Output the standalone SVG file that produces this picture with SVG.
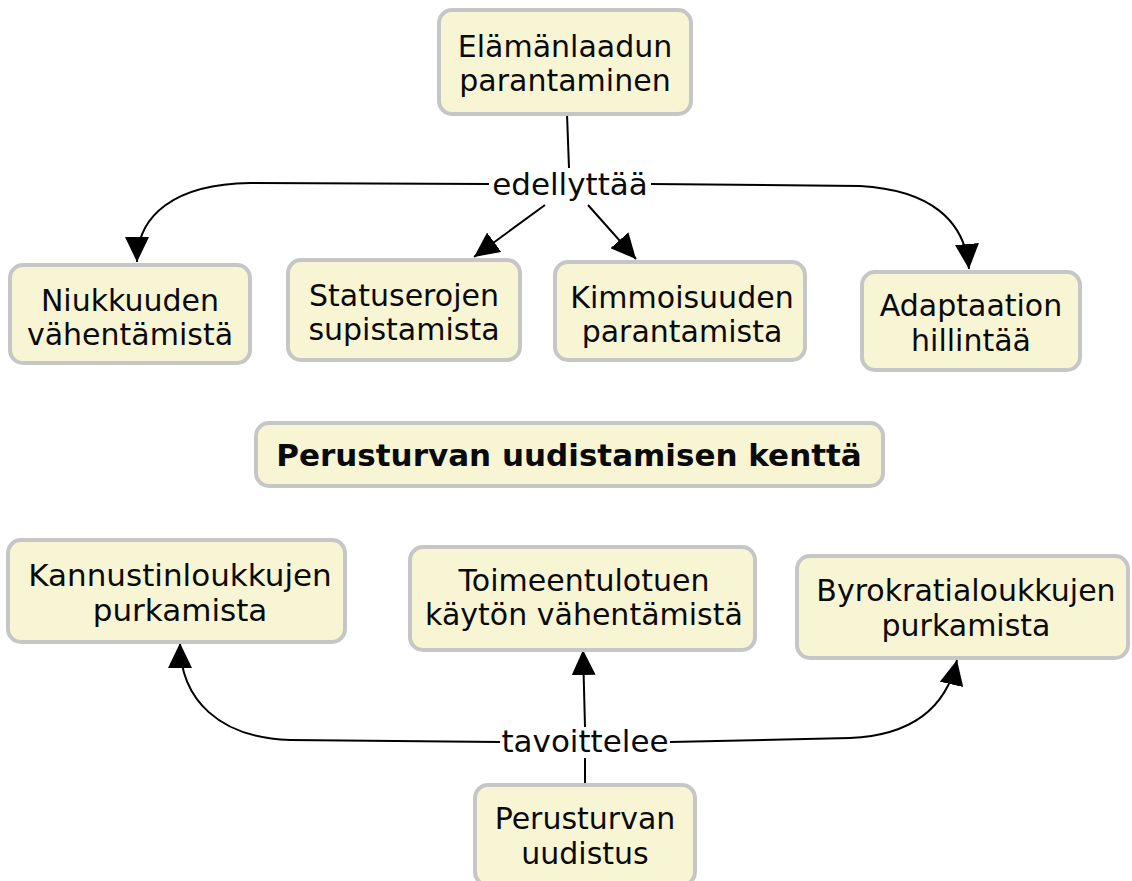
<svg xmlns="http://www.w3.org/2000/svg" width="1132" height="881" viewBox="0 0 1132 881">
<style>
.box{fill:#f8f5d5;stroke:#c6c6c6;stroke-width:4}
.t{font-family:"DejaVu Sans",Verdana,sans-serif;font-size:30px;fill:#0a0a0a;text-anchor:middle}
.l{font-size:31px}
.b{font-weight:bold;font-size:31px}
.e{fill:none;stroke:#000;stroke-width:2}
</style>
<defs>
<marker id="ah" markerUnits="userSpaceOnUse" markerWidth="26" markerHeight="24" refX="25" refY="12" orient="auto">
<path d="M0,0 L25,12 L0,24 z" fill="#000"/>
</marker>
</defs>
<rect width="1132" height="881" fill="#fff"/>
<g id="connectors">
<path class="e" d="M567 114 L569 168"/>
<path class="e" d="M489 184 L250 183 C175 184 137 215 137 262" marker-end="url(#ah)"/>
<path class="e" d="M651 184 L860 186 C930 190 965 220 969 269" marker-end="url(#ah)"/>
<path class="e" d="M545 205 L474 257" marker-end="url(#ah)"/>
<path class="e" d="M588 205 L636 259" marker-end="url(#ah)"/>
<path class="e" d="M585 785 L585 758"/>
<path class="e" d="M585 727 L583 650" marker-end="url(#ah)"/>
<path class="e" d="M500 742 L290 740 C220 738 180 700 180 643" marker-end="url(#ah)"/>
<path class="e" d="M670 742 L850 738 C920 735 948 700 957 660" marker-end="url(#ah)"/>
<text class="t l" x="570" y="195">edellyttää</text>
<text class="t l" x="585" y="752">tavoittelee</text>
</g>
<g id="n-elama"><rect class="box" x="439" y="10" width="252" height="104" rx="13"/><text class="t" x="565" y="57">Elämänlaadun</text><text class="t" x="565" y="91">parantaminen</text></g>
<g id="n-niukkuus"><rect class="box" x="10" y="265" width="240" height="98" rx="13"/><text class="t" x="130" y="311">Niukkuuden</text><text class="t" x="130" y="345">vähentämistä</text></g>
<g id="n-status"><rect class="box" x="288" y="260" width="232" height="100" rx="13"/><text class="t" x="404" y="306">Statuserojen</text><text class="t" x="404" y="340">supistamista</text></g>
<g id="n-kimmo"><rect class="box" x="555" y="262" width="250" height="98" rx="13"/><text class="t" x="682" y="308">Kimmoisuuden</text><text class="t" x="682" y="342">parantamista</text></g>
<g id="n-adapt"><rect class="box" x="862" y="272" width="218" height="98" rx="13"/><text class="t" x="971" y="316">Adaptaation</text><text class="t" x="971" y="351">hillintää</text></g>
<g id="n-title"><rect class="box" x="256" y="423" width="627" height="63" rx="13"/><text class="t b" x="569" y="466">Perusturvan uudistamisen kenttä</text></g>
<g id="n-kannustin"><rect class="box" x="8" y="540" width="337" height="102" rx="13"/><text class="t" x="180" y="586" style="font-size:31px">Kannustinloukkujen</text><text class="t" x="180" y="621" style="font-size:31px">purkamista</text></g>
<g id="n-toimeentulo"><rect class="box" x="410" y="547" width="345" height="103" rx="13"/><text class="t" x="584" y="591">Toimeentulotuen</text><text class="t" x="584" y="625">käytön vähentämistä</text></g>
<g id="n-byrokratia"><rect class="box" x="797" y="556" width="331" height="102" rx="13"/><text class="t" x="966" y="601">Byrokratialoukkujen</text><text class="t" x="966" y="636">purkamista</text></g>
<g id="n-uudistus"><rect class="box" x="475" y="785" width="220" height="100" rx="13"/><text class="t" x="585" y="829">Perusturvan</text><text class="t" x="585" y="864">uudistus</text></g>
</svg>
